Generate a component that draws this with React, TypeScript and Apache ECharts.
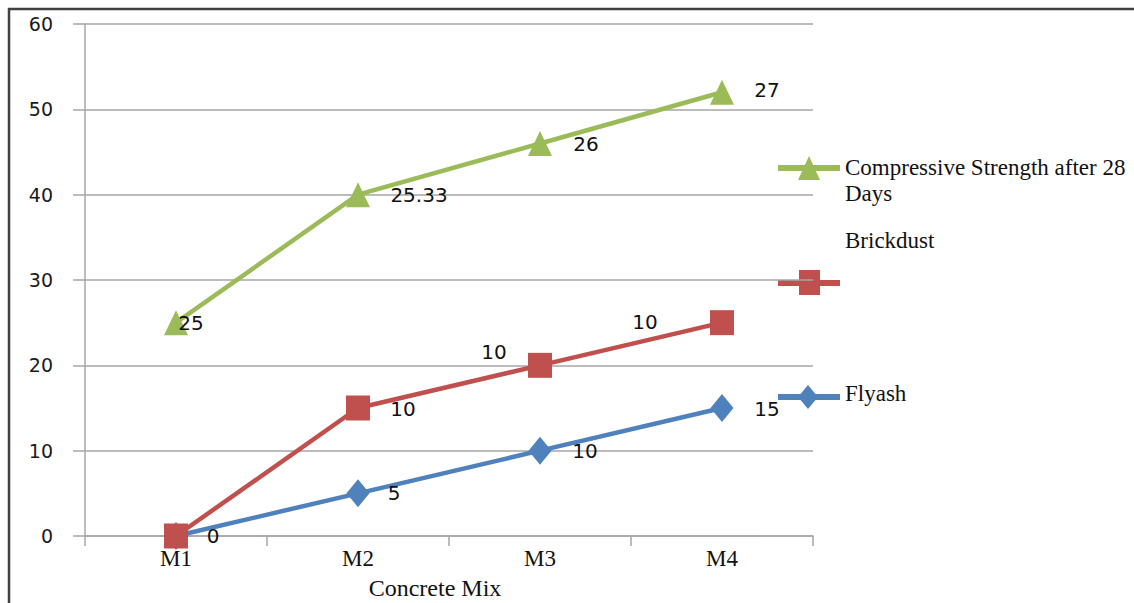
import React, { useEffect, useRef } from "react";
import * as echarts from "echarts";

const CATEGORIES = ["M1", "M2", "M3", "M4"];
const Y_MIN = 0;
const Y_MAX = 60;
const Y_INTERVAL = 10;

const FLYASH_NAME = "Flyash";
const FLYASH = [0, 5, 10, 15];
const FLYASH_LABELS = ["0", "5", "10", "15"];

const BRICKDUST_NAME = "Brickdust";
const BRICKDUST = [0, 15, 20, 25];
const BRICKDUST_LABELS = ["", "10", "10", "10"];

const STRENGTH_NAME = "Compressive Strength after 28 Days";
const STRENGTH = [25, 40, 46, 52];
const STRENGTH_LABELS = ["25", "25.33", "26", "27"];

const X_TITLE = "Concrete Mix";

// label offsets (layout only) relative to each point centre
const FLYASH_OFFSETS = [[37, 0], [36, 0], [45, 0], [45, 1]];
const BRICKDUST_OFFSETS = [[0, 0], [45, 1], [-46, -13], [-77, -1]];
const STRENGTH_OFFSETS = [[15, 0], [61, 0], [46, 1], [45, -2]];

const GREEN = "#9BBB59";
const RED = "#C0504D";
const BLUE = "#4F81BD";
const GRID = "#a6a6a6";
const SERIF = "'Liberation Serif', 'Times New Roman', serif";
const SANS = "'DejaVu Sans', sans-serif";

function buildData(values: number[], labels: string[], offsets: number[][]) {
  return values.map((v, i) => ({
    value: v,
    label: {
      show: labels[i] !== "",
      formatter: labels[i],
      position: "inside",
      offset: offsets[i],
      align: "center",
      verticalAlign: "middle",
      color: "#111",
      fontFamily: SANS,
      fontSize: 20,
    },
  }));
}

export default function App() {
  const ref = useRef<HTMLDivElement>(null);
  useEffect(() => {
    if (!ref.current) return;
    const chart = echarts.init(ref.current, undefined, { renderer: "svg" });

    const legendText = (text: string, x: number, y: number) => ({
      type: "text",
      style: {
        text,
        x,
        y,
        fill: "#111",
        font: `23px ${SERIF}`,
        verticalAlign: "middle",
        lineHeight: 26,
      },
    });

    const option: any = {
      animation: false,
      backgroundColor: "#fff",
      grid: { left: 85, right: 321, top: 24, bottom: 67, containLabel: false, outerBoundsMode: "none" },
      xAxis: {
        type: "category",
        data: CATEGORIES,
        boundaryGap: true,
        axisLine: { show: true, lineStyle: { color: GRID, width: 1.5 } },
        axisTick: { show: true, length: 10, alignWithLabel: false, lineStyle: { color: GRID, width: 1.5 } },
        axisLabel: { fontFamily: SERIF, fontSize: 23, color: "#111", margin: 11 },
        name: X_TITLE,
        nameLocation: "middle",
        nameGap: 40,
        nameTextStyle: { fontFamily: SERIF, fontSize: 24, color: "#111", padding: [0, 28, 0, 0] },
        splitLine: { show: false },
      },
      yAxis: {
        type: "value",
        min: Y_MIN,
        max: Y_MAX,
        interval: Y_INTERVAL,
        axisLine: { show: true, lineStyle: { color: GRID, width: 1.5 } },
        axisTick: { show: true, length: 12, lineStyle: { color: GRID, width: 1.5 } },
        axisLabel: { fontFamily: SANS, fontSize: 19, color: "#1a1a1a", margin: 32 },
        splitLine: { show: true, lineStyle: { color: GRID, width: 1.5 } },
      },
      series: [
        {
          name: FLYASH_NAME,
          type: "line",
          data: buildData(FLYASH, FLYASH_LABELS, FLYASH_OFFSETS),
          symbol: "diamond",
          symbolSize: [23, 28],
          lineStyle: { color: BLUE, width: 4.5 },
          itemStyle: { color: BLUE },
          z: 2,
        },
        {
          name: BRICKDUST_NAME,
          type: "line",
          data: buildData(BRICKDUST, BRICKDUST_LABELS, BRICKDUST_OFFSETS),
          symbol: "rect",
          symbolSize: [24, 25],
          lineStyle: { color: RED, width: 4.5 },
          itemStyle: { color: RED },
          z: 3,
        },
        {
          name: STRENGTH_NAME,
          type: "line",
          data: buildData(STRENGTH, STRENGTH_LABELS, STRENGTH_OFFSETS),
          symbol: "triangle",
          symbolSize: [24, 25],
          lineStyle: { color: GREEN, width: 4.5 },
          itemStyle: { color: GREEN },
          z: 4,
        },
      ],
      graphic: [
        {
          type: "rect",
          shape: { x: 9, y: 9, width: 1160, height: 640 },
          style: { fill: "none", stroke: "#404040", lineWidth: 2.5 },
          silent: true,
        },
        // legend: strength
        { type: "line", shape: { x1: 778, y1: 168, x2: 840, y2: 168 }, style: { stroke: GREEN, lineWidth: 6 } },
        { type: "polygon", shape: { points: [[809, 156], [798, 180], [820, 180]] }, style: { fill: GREEN } },
        legendText("Compressive Strength after 28\nDays", 845, 180),
        // legend: brickdust
        legendText(BRICKDUST_NAME, 845, 240),
        { type: "line", shape: { x1: 778, y1: 283, x2: 840, y2: 283 }, style: { stroke: RED, lineWidth: 6 } },
        { type: "rect", shape: { x: 799, y: 270, width: 21, height: 25 }, style: { fill: RED } },
        // legend: flyash
        { type: "line", shape: { x1: 778, y1: 397, x2: 840, y2: 397 }, style: { stroke: BLUE, lineWidth: 6 } },
        { type: "polygon", shape: { points: [[808, 385], [818, 397], [808, 409], [798, 397]] }, style: { fill: BLUE } },
        legendText(FLYASH_NAME, 845, 393),
      ],
    };
    chart.setOption(option);
    return () => chart.dispose();
  }, []);
  return (
    <div
      ref={ref}
      style={{ position: "fixed", left: 0, top: 0, width: 1134, height: 603, background: "#fff" }}
    />
  );
}
